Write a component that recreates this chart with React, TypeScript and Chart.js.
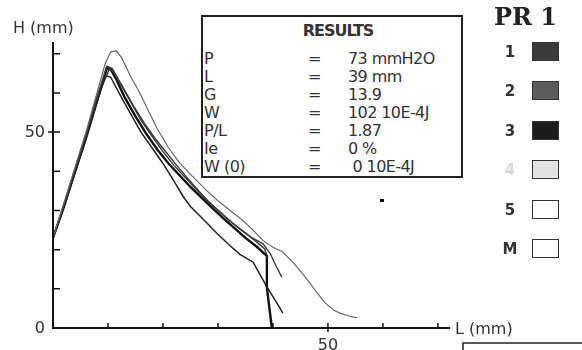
import React, { useEffect, useRef } from "react";
import { Chart, registerables } from "chart.js";
Chart.register(...registerables);

// Curve data: L (mm) and H (mm)
const curveAL = [0, 2, 4, 6, 8, 9.5, 10.5, 11.5, 12.5, 14, 15.8, 17.5, 18.9, 21, 23.1, 25.5, 28, 30, 32.2, 34.5, 36.4, 38.2, 40, 41.8, 43.6, 45, 46.7, 48, 49.5, 51, 52.2, 54, 55.3];
const curveAH = [23, 32, 41, 50, 60, 67.5, 70.5, 70.7, 69, 64.5, 60, 55, 51, 46, 42, 38.5, 35, 32.5, 30, 27.5, 25, 22.3, 20.6, 19.4, 16.8, 14.5, 11.5, 9, 6.4, 4.6, 3.8, 3, 2.6];

const curveBL = [0, 2, 4, 6, 8, 9.8, 10.8, 12, 14, 16, 18, 20, 22, 24, 26, 28, 30, 32, 34, 36, 38.2, 39.5, 40.5, 41.6];
const curveBH = [23, 31.5, 40.5, 49.5, 59, 66.8, 66.2, 63, 58, 53, 49, 45, 41.5, 38.5, 35.5, 32.5, 30, 27.5, 25.2, 23.2, 21.5, 19, 16, 13];

const curveCL = [0, 2, 4, 6, 8, 9.5, 10.5, 12, 14, 16, 18, 20, 22, 23.7, 25, 27.5, 29.8, 32.2, 34, 36.4, 37.5, 38.9, 40, 41.3, 41.8];
const curveCH = [23, 31, 39.5, 48, 57.5, 64.5, 64, 60, 55, 50, 46, 42, 37.5, 33.5, 31, 27.5, 24.2, 21, 18.8, 16.8, 14, 10.5, 8, 5, 3.8];

const curveEL = [0, 2, 4, 6, 8, 10.2, 11, 12.5, 14.5, 16.5, 18.5, 20.5, 22.5, 24.5, 26.5, 28.5, 30.5, 32.5, 34.5, 36.5, 38.5, 39];
const curveEH = [23, 31.5, 40, 49, 58.5, 66, 65.5, 62, 57, 52.5, 48.5, 45, 41.5, 38.2, 35, 32, 29.5, 27, 24.8, 22.6, 20.2, 18];

const curveML = [0, 2, 4, 6, 8, 9, 9.8, 10.5, 11.5, 13, 15, 17, 19, 21, 23, 25, 27, 29, 31, 33, 35, 37, 38.9, 38.9, 39.8];
const curveMH = [23, 31, 40, 49, 58, 62.5, 66.4, 66, 63.5, 59, 54, 49.5, 45.5, 42, 39, 36, 33.3, 30.6, 28, 25.5, 23, 20.8, 18.4, 10.3, 0];

const xTicks = [0, 10, 20, 30, 40, 50, 60, 70];
const yTicks = [0, 10, 20, 30, 40, 50, 60, 70];
const xTickLabels = ["50"];
const xTickLabelValues = [50];
const yTickLabels = ["0", "50"];
const yTickLabelValues = [0, 50];

const resultLabels = ["P", "L", "G", "W", "P/L", "Ie", "W (0)"];
const resultValues = ["73 mmH2O", "39 mm", "13.9", "102 10E-4J", "1.87", "0 %", " 0 10E-4J"];

const legendLabels = ["1", "2", "3", "4", "5", "M"];
const legendFills = ["#3a3a3a", "#5c5c5c", "#1c1c1c", "#e2e2e2", "#ffffff", "#ffffff"];
const legendTextColors = ["#333", "#333", "#333", "#d8d8d8", "#333", "#333"];

const pts = (L: number[], H: number[]) => L.map((l, i) => ({ x: l, y: H[i] }));

const axesPlugin = {
  id: "axesPlugin",
  afterDraw(chart: any) {
    const ctx = chart.ctx;
    const xs = chart.scales.x;
    const ys = chart.scales.y;
    const x0 = xs.getPixelForValue(0);
    const y0 = ys.getPixelForValue(0);
    ctx.save();
    ctx.strokeStyle = "#111";
    ctx.lineWidth = 2;
    ctx.beginPath();
    ctx.moveTo(x0, ys.getPixelForValue(73));
    ctx.lineTo(x0, y0 + 1);
    ctx.moveTo(x0 - 1, y0);
    ctx.lineTo(xs.getPixelForValue(72.2), y0);
    ctx.stroke();
    ctx.lineWidth = 1.5;
    ctx.beginPath();
    yTicks.forEach((v) => {
      if (v === 0) return;
      const y = ys.getPixelForValue(v);
      const left = v === 50 ? x0 - 5 : x0;
      ctx.moveTo(left, y);
      ctx.lineTo(x0 + 7, y);
    });
    xTicks.forEach((v) => {
      if (v === 0) return;
      const x = xs.getPixelForValue(v);
      const bottom = v === 50 ? y0 + 4 : y0;
      ctx.moveTo(x, y0 - 5);
      ctx.lineTo(x, bottom);
    });
    ctx.stroke();
    ctx.fillStyle = "#333";
    ctx.font = "16px 'DejaVu Sans'";
    ctx.textBaseline = "middle";
    ctx.textAlign = "right";
    yTickLabels.forEach((t, i) => {
      ctx.fillText(t, x0 - 8, ys.getPixelForValue(yTickLabelValues[i]) + 1);
    });
    ctx.textAlign = "center";
    ctx.textBaseline = "top";
    xTickLabels.forEach((t, i) => {
      ctx.fillText(t, xs.getPixelForValue(xTickLabelValues[i]), y0 + 10);
    });
    ctx.textAlign = "left";
    ctx.textBaseline = "middle";
    ctx.fillText("H (mm)", 13, 29);
    ctx.fillText("L (mm)", xs.getPixelForValue(72.2) + 5, y0 + 2);
    // small black mark
    ctx.fillStyle = "#111";
    ctx.fillRect(380, 199, 4, 3);
    // partial box bottom-right
    ctx.strokeStyle = "#222";
    ctx.lineWidth = 1.5;
    ctx.beginPath();
    ctx.moveTo(463, 352);
    ctx.lineTo(463, 343);
    ctx.lineTo(584, 343);
    ctx.stroke();
    ctx.restore();
  },
};

export default function App() {
  const ref = useRef<HTMLCanvasElement>(null);
  useEffect(() => {
    if (!ref.current) return;
    const mk = (L: number[], H: number[], color: string, w: number) => ({
      data: pts(L, H),
      borderColor: color,
      borderWidth: w,
      showLine: true,
      pointRadius: 0,
      tension: 0,
      fill: false,
      clip: false as any,
    });
    const chart = new Chart(ref.current, {
      type: "scatter",
      data: {
        datasets: [
          mk(curveAL, curveAH, "#666", 1.2),
          mk(curveBL, curveBH, "#3a3a3a", 1.4),
          mk(curveCL, curveCH, "#222", 1.5),
          mk(curveEL, curveEH, "#333", 1.4),
          mk(curveML, curveMH, "#111", 2.4),
        ],
      },
      options: {
        responsive: false,
        animation: false,
        events: [],
        layout: { padding: { left: 53, right: 132, top: 42, bottom: 22 } },
        plugins: { legend: { display: false }, tooltip: { enabled: false } },
        scales: {
          x: { type: "linear", min: 0, max: 72.2, display: false },
          y: { type: "linear", min: 0, max: 73, display: false },
        },
      },
      plugins: [axesPlugin],
    });
    return () => chart.destroy();
  }, []);

  const font = "'DejaVu Sans', sans-serif";
  return (
    <div style={{ position: "fixed", left: 0, top: 0, width: 582, height: 350, background: "#fff", overflow: "hidden" }}>
      <canvas ref={ref} width={582} height={350} style={{ position: "absolute", left: 0, top: 0 }} />
      <div
        style={{
          position: "absolute",
          left: 201,
          top: 15,
          width: 258,
          height: 159,
          border: "2px solid #222",
          background: "#fff",
          fontFamily: font,
          color: "#333",
        }}
      >
        <div style={{ position: "absolute", left: 0, width: 258, top: 4, textAlign: "center", fontWeight: "bold", fontSize: 16, letterSpacing: -1, paddingLeft: 12, boxSizing: "border-box" }}>
          RESULTS
        </div>
        {resultLabels.map((l, i) => (
          <div key={l} style={{ position: "absolute", top: 33 + i * 18, left: 1, width: 256, height: 18, fontSize: 16, lineHeight: "18px", whiteSpace: "pre" }}>
            <span style={{ position: "absolute", left: 0, letterSpacing: -0.5 }}>{l}</span>
            <span style={{ position: "absolute", left: 104 }}>=</span>
            <span style={{ position: "absolute", left: 144, letterSpacing: -0.6 }}>{resultValues[i]}</span>
          </div>
        ))}
      </div>
      <div style={{ position: "absolute", left: 494, top: 2, fontFamily: "'DejaVu Serif', serif", fontWeight: "bold", fontSize: 24, color: "#222", whiteSpace: "nowrap" }}>
        PR 1
      </div>
      {legendLabels.map((l, i) => (
        <React.Fragment key={l}>
          <div style={{ position: "absolute", left: 497, width: 26, top: 52 + i * 39.4 - 10, height: 20, lineHeight: "20px", textAlign: "center", fontFamily: font, fontWeight: "bold", fontSize: 15, color: legendTextColors[i] }}>
            {l}
          </div>
          <div style={{ position: "absolute", left: 532, top: 52 + i * 39.4 - 10, width: 25, height: 17, border: "1.5px solid #333", background: legendFills[i] }} />
        </React.Fragment>
      ))}
    </div>
  );
}
